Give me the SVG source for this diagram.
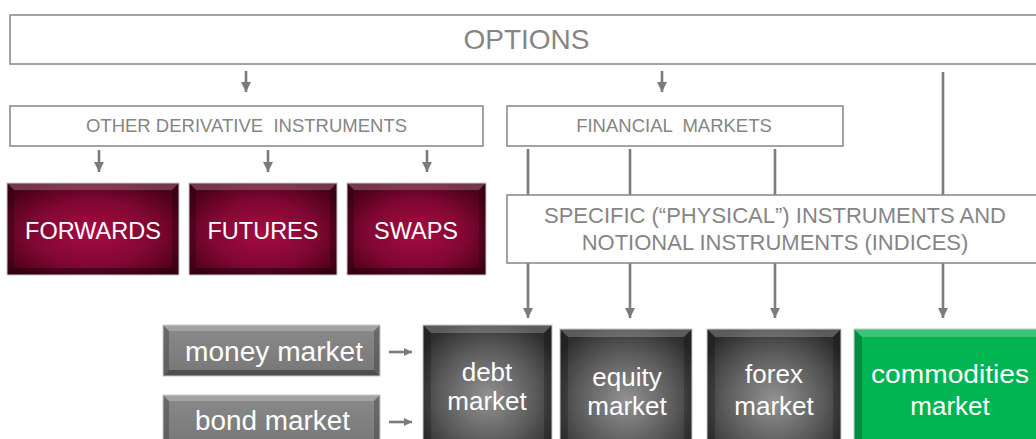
<svg xmlns="http://www.w3.org/2000/svg" width="1036" height="439" viewBox="0 0 1036 439">
<defs>
<style>
.box{fill:#fff;stroke:#8c8c8c;stroke-width:1.6}
.lbl{font-family:"Liberation Sans",Arial,sans-serif;fill:#858585;text-anchor:middle}
.wl{font-family:"Liberation Sans",Arial,sans-serif;fill:#fff;text-anchor:middle}
.con{stroke:#7b7b7b;stroke-width:2.6;fill:none}
.bt{fill:#fff;opacity:.22}
.bb{fill:#000;opacity:.35}
.bs{fill:#000;opacity:.22}
.edge{fill:none;stroke:#c8c8c8;stroke-width:1}
</style>
<radialGradient id="gRed" cx="0.5" cy="0.55" r="0.62">
<stop offset="0" stop-color="#a80a42"/>
<stop offset="0.55" stop-color="#820833"/>
<stop offset="1" stop-color="#4c0019"/>
</radialGradient>
<radialGradient id="gDark" cx="0.5" cy="0.55" r="0.62">
<stop offset="0" stop-color="#929292"/>
<stop offset="0.6" stop-color="#5a5a5a"/>
<stop offset="1" stop-color="#2e2e2e"/>
</radialGradient>
<linearGradient id="gMid" x1="0" y1="0" x2="0" y2="1">
<stop offset="0" stop-color="#8a8a8a"/>
<stop offset="1" stop-color="#777"/>
</linearGradient>
<marker id="ah" markerUnits="userSpaceOnUse" markerWidth="10" markerHeight="10" refX="10" refY="5" orient="auto">
<path d="M0,0 L10,5 L0,10 z" fill="#7b7b7b"/>
</marker>
<marker id="ahs" markerUnits="userSpaceOnUse" markerWidth="8" markerHeight="8" refX="8" refY="4" orient="auto">
<path d="M0,0 L8,4 L0,8 z" fill="#7b7b7b"/>
</marker>
</defs>

<g id="connectors">
<line class="con" x1="246" y1="71" x2="246" y2="92" marker-end="url(#ah)"/>
<line class="con" x1="662" y1="71" x2="662" y2="92" marker-end="url(#ah)"/>
<line class="con" x1="99" y1="150" x2="99" y2="172" marker-end="url(#ah)"/>
<line class="con" x1="268" y1="150" x2="268" y2="172" marker-end="url(#ah)"/>
<line class="con" x1="427" y1="150" x2="427" y2="172" marker-end="url(#ah)"/>
<line class="con" x1="528" y1="149" x2="528" y2="195"/>
<line class="con" x1="630" y1="149" x2="630" y2="195"/>
<line class="con" x1="775" y1="149" x2="775" y2="195"/>
<line class="con" x1="943" y1="72" x2="943" y2="195"/>
<line class="con" x1="528" y1="263" x2="528" y2="318" marker-end="url(#ah)"/>
<line class="con" x1="630" y1="263" x2="630" y2="318" marker-end="url(#ah)"/>
<line class="con" x1="775" y1="263" x2="775" y2="318" marker-end="url(#ah)"/>
<line class="con" x1="943" y1="263" x2="943" y2="318" marker-end="url(#ah)"/>
<line class="con" x1="389" y1="352" x2="412" y2="352" stroke-width="2" marker-end="url(#ahs)"/>
<line class="con" x1="389" y1="422" x2="412" y2="422" stroke-width="2" marker-end="url(#ahs)"/>
</g>

<g id="options">
<rect class="box" x="10" y="15" width="1040" height="49"/>
<text class="lbl" x="526.5" y="49" font-size="28">OPTIONS</text>
</g>

<g id="other-derivatives">
<rect class="box" x="10" y="106" width="473" height="40"/>
<text class="lbl" x="246.5" y="131.5" font-size="18.5" xml:space="preserve">OTHER DERIVATIVE  INSTRUMENTS</text>
</g>

<g id="financial-markets">
<rect class="box" x="507" y="106" width="336" height="40"/>
<text class="lbl" x="674" y="131.5" font-size="18.5" xml:space="preserve">FINANCIAL  MARKETS</text>
</g>

<g id="specific">
<rect class="box" x="507" y="195" width="540" height="68"/>
<text class="lbl" x="775" y="223" font-size="22">SPECIFIC (“PHYSICAL”) INSTRUMENTS AND</text>
<text class="lbl" x="775" y="250" font-size="22">NOTIONAL INSTRUMENTS (INDICES)</text>
</g>

<g id="forwards">
<rect x="7" y="183" width="172" height="92" fill="url(#gRed)"/>
<polygon class="bt" points="7,183 179,183 172,190 14,190"/>
<polygon class="bb" points="7,275 179,275 172,268 14,268"/>
<polygon class="bs" points="7,183 14,190 14,268 7,275"/>
<polygon class="bs" points="179,183 172,190 172,268 179,275"/>
<rect class="edge" x="7" y="183" width="172" height="92"/>
<text class="wl" x="93" y="239" font-size="23.5">FORWARDS</text>
</g>

<g id="futures">
<rect x="189" y="183" width="148" height="92" fill="url(#gRed)"/>
<polygon class="bt" points="189,183 337,183 330,190 196,190"/>
<polygon class="bb" points="189,275 337,275 330,268 196,268"/>
<polygon class="bs" points="189,183 196,190 196,268 189,275"/>
<polygon class="bs" points="337,183 330,190 330,268 337,275"/>
<rect class="edge" x="189" y="183" width="148" height="92"/>
<text class="wl" x="263" y="239" font-size="23.5">FUTURES</text>
</g>

<g id="swaps">
<rect x="347" y="183" width="139" height="92" fill="url(#gRed)"/>
<polygon class="bt" points="347,183 486,183 479,190 354,190"/>
<polygon class="bb" points="347,275 486,275 479,268 354,268"/>
<polygon class="bs" points="347,183 354,190 354,268 347,275"/>
<polygon class="bs" points="486,183 479,190 479,268 486,275"/>
<rect class="edge" x="347" y="183" width="139" height="92"/>
<text class="wl" x="416" y="239" font-size="23.5">SWAPS</text>
</g>

<g id="money-market">
<rect x="163" y="325" width="217" height="51" fill="url(#gMid)"/>
<polygon class="bt" points="163,325 380,325 374,331 169,331"/>
<polygon class="bb" points="163,376 380,376 374,370 169,370"/>
<polygon class="bs" points="163,325 169,331 169,370 163,376"/>
<polygon class="bs" points="380,325 374,331 374,370 380,376"/>
<rect class="edge" x="163" y="325" width="217" height="51"/>
<text class="wl" x="274" y="361" font-size="27" textLength="178" lengthAdjust="spacingAndGlyphs">money market</text>
</g>

<g id="bond-market">
<rect x="163" y="395" width="217" height="51" fill="url(#gMid)"/>
<polygon class="bt" points="163,395 380,395 374,401 169,401"/>
<polygon class="bb" points="163,446 380,446 374,440 169,440"/>
<polygon class="bs" points="163,395 169,401 169,440 163,446"/>
<polygon class="bs" points="380,395 374,401 374,440 380,446"/>
<rect class="edge" x="163" y="395" width="217" height="51"/>
<text class="wl" x="272.5" y="430" font-size="27" textLength="155" lengthAdjust="spacingAndGlyphs">bond market</text>
</g>

<g id="debt-market">
<rect x="423" y="325" width="129" height="130" fill="url(#gDark)"/>
<polygon class="bt" points="423,325 552,325 544,333 431,333"/>
<polygon class="bs" points="423,325 431,333 431,447 423,455"/>
<polygon class="bs" points="552,325 544,333 544,447 552,455"/>
<rect class="edge" x="423" y="325" width="129" height="130"/>
<text class="wl" x="487" y="381" font-size="26">debt</text>
<text class="wl" x="487" y="410" font-size="26">market</text>
</g>

<g id="equity-market">
<rect x="560" y="329" width="132" height="130" fill="url(#gDark)"/>
<polygon class="bt" points="560,329 692,329 684,337 568,337"/>
<polygon class="bs" points="560,329 568,337 568,451 560,459"/>
<polygon class="bs" points="692,329 684,337 684,451 692,459"/>
<rect class="edge" x="560" y="329" width="132" height="130"/>
<text class="wl" x="627" y="386" font-size="26">equity</text>
<text class="wl" x="627" y="415" font-size="26">market</text>
</g>

<g id="forex-market">
<rect x="707" y="329" width="134" height="130" fill="url(#gDark)"/>
<polygon class="bt" points="707,329 841,329 833,337 715,337"/>
<polygon class="bs" points="707,329 715,337 715,451 707,459"/>
<polygon class="bs" points="841,329 833,337 833,451 841,459"/>
<rect class="edge" x="707" y="329" width="134" height="130"/>
<text class="wl" x="774" y="383" font-size="26">forex</text>
<text class="wl" x="774" y="415" font-size="26">market</text>
</g>

<g id="commodities-market">
<rect x="854" y="329" width="192" height="130" fill="#00b552"/>
<polygon class="bt" points="854,329 1046,329 1038,337 862,337"/>
<polygon class="bs" points="854,329 862,337 862,451 854,459"/>
<rect class="edge" x="854" y="329" width="192" height="130"/>
<text class="wl" x="950" y="383" font-size="26" textLength="158" lengthAdjust="spacingAndGlyphs">commodities</text>
<text class="wl" x="950" y="415" font-size="26">market</text>
</g>
</svg>
